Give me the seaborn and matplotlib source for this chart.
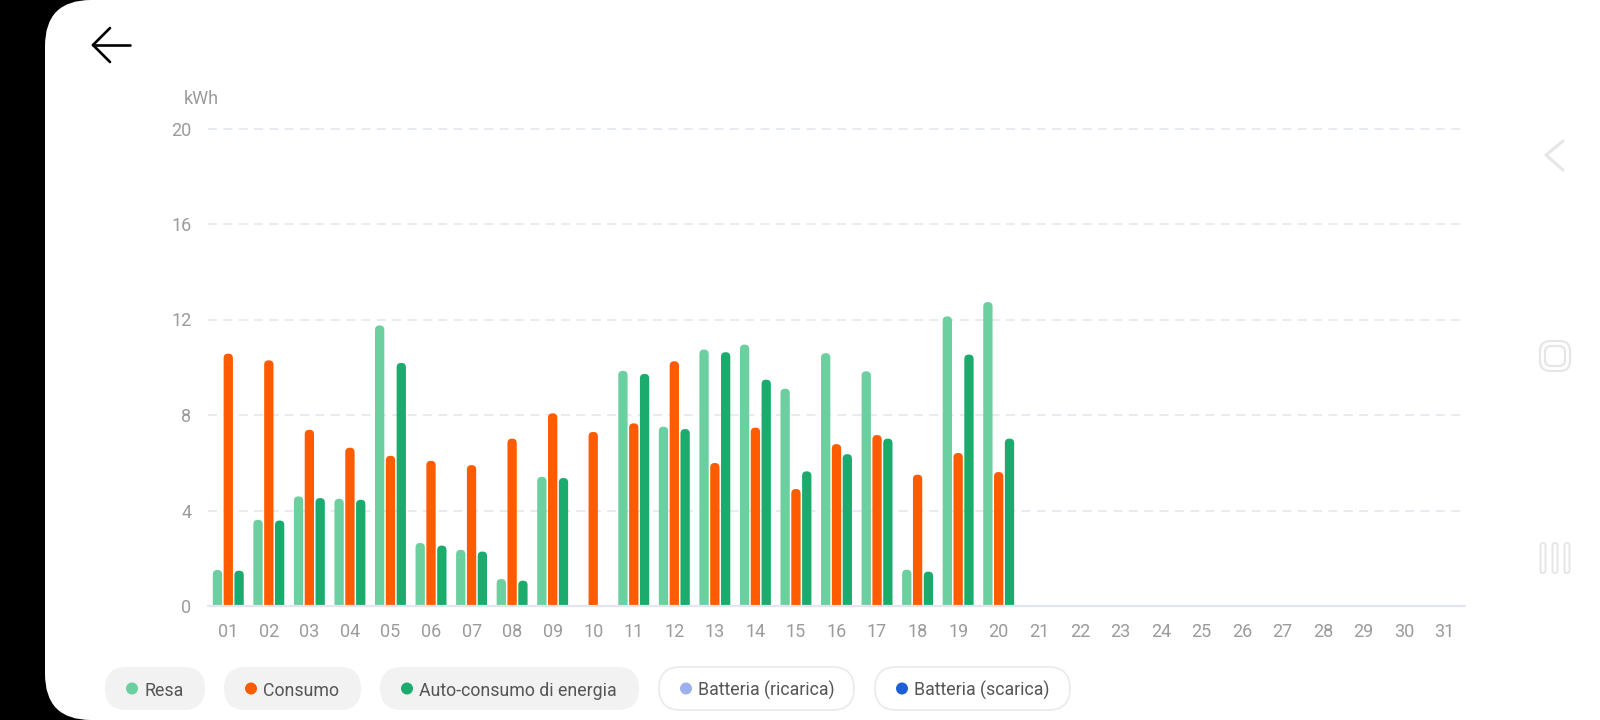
import numpy as np
import pandas as pd
import seaborn as sns
import matplotlib
matplotlib.use("Agg")
import matplotlib.pyplot as plt
from matplotlib.patches import FancyBboxPatch, Circle
from matplotlib.lines import Line2D
from matplotlib.transforms import IdentityTransform

# ---------------- data ----------------
days = [f"{d:02d}" for d in range(1, 32)]
resa = [1.51, 3.61, 4.59, 4.49, 11.75, 2.64, 2.35, 1.13, 5.41, 0.0,
        9.85, 7.51, 10.74, 10.95, 9.10, 10.59, 9.83, 1.52, 12.13, 12.73]
consumo = [10.57, 10.29, 7.38, 6.63, 6.29, 6.08, 5.90, 7.01, 8.07, 7.29,
           7.65, 10.25, 5.99, 7.47, 4.90, 6.78, 7.16, 5.50, 6.41, 5.61]
autoconsumo = [1.48, 3.58, 4.52, 4.45, 10.18, 2.53, 2.28, 1.06, 5.36, 0.0,
               9.72, 7.41, 10.63, 9.48, 5.64, 6.36, 7.01, 1.44, 10.53, 7.01]
series_names = ["Resa", "Consumo", "Auto-consumo di energia"]
series_colors = ["#6CCF9F", "#FF5B00", "#1BAB6D"]
legend_names = ["Resa", "Consumo", "Auto-consumo di energia",
                "Batteria (ricarica)", "Batteria (scarica)"]
legend_colors = ["#6CCF9F", "#FF5B00", "#1BAB6D", "#9DB0EB", "#1F5FD6"]
legend_active = [True, True, True, False, False]
y_ticks = [0, 4, 8, 12, 16, 20]
unit_label = "kWh"

# ---------------- frame ----------------
rows = []
for name, vals in zip(series_names, [resa, consumo, autoconsumo]):
    full = list(vals) + [np.nan] * (len(days) - len(vals))
    for d, v in zip(days, full):
        rows.append({"day": d, "serie": name, "value": v})
df = pd.DataFrame(rows)

sns.set_style("white")
plt.rcParams["font.family"] = ["Roboto", "DejaVu Sans"]

W, H = 1600, 720
fig = plt.figure(figsize=(W / 100, H / 100), dpi=100, facecolor="black")

# white rounded panel
panel = FancyBboxPatch((45, 0), 1800, H, boxstyle="round,pad=0,rounding_size=46",
                       transform=IdentityTransform(), facecolor="white",
                       edgecolor="none", zorder=-5)
fig.patches.append(panel)

ax_left, ax_right = 208, 1465
ax_bottom, ax_top = 606, 128.5
ax = fig.add_axes([ax_left / W, (H - ax_bottom) / H,
                   (ax_right - ax_left) / W, (ax_bottom - ax_top) / H])
ax.set_facecolor("none")

sns.barplot(data=df, x="day", y="value", hue="serie", order=days,
            hue_order=series_names, palette=series_colors, saturation=1,
            width=0.8, gap=0.14, errorbar=None, legend=False, ax=ax, zorder=3)

ax.set_xlim(-0.5, len(days) - 0.5)
ax.set_ylim(0, 20)

# replace bars by rounded-top bars
fig.canvas.draw()
p0 = ax.transData.transform((0, 0))
p1 = ax.transData.transform((1, 1))
aspect = (p1[0] - p0[0]) / (p1[1] - p0[1])
for p in list(ax.patches):
    x, w, h = p.get_x(), p.get_width(), p.get_height()
    fc = p.get_facecolor()
    p.remove()
    if not np.isfinite(h) or h <= 0:
        continue
    r = w / 2 * 0.95
    ry = r * aspect
    fb = FancyBboxPatch((x, -ry), w, h + ry,
                        boxstyle=f"round,pad=0,rounding_size={r}",
                        mutation_aspect=aspect, facecolor=fc, edgecolor="none",
                        zorder=3)
    ax.add_patch(fb)

for s in ax.spines.values():
    s.set_visible(False)
ax.set_yticks(y_ticks)
ax.set_yticklabels([str(t) for t in y_ticks])
ax.set_xlabel("")
ax.set_ylabel("")
ax.tick_params(axis="both", length=0, colors="#9B9B9B", labelsize=13)
ax.tick_params(axis="y", pad=12)
ax.tick_params(axis="x", pad=12.5)
for t in y_ticks[1:]:
    ax.axhline(t, color="#E6E9F0", lw=1.3, ls=(0, (5, 3.5)), zorder=1, clip_on=False)
ax.axhline(0, color="#E3E6F0", lw=1.6, zorder=4, clip_on=False)

fig.text(201 / W, (H - 99) / H, unit_label, ha="center", va="center",
         fontsize=13, color="#9B9B9B")

# back arrow
idt = IdentityTransform()
for (xa, ya), (xb, yb) in [((93, 45), (130, 45)), ((93, 45), (110, 28)), ((93, 45), (110, 62))]:
    fig.lines.append(Line2D([xa, xb], [H - ya, H - yb], transform=idt, color="black",
                            lw=1.9, solid_capstyle="round"))

# right nav icons
nav = "#E6E6E6"
fig.lines.append(Line2D([1563, 1546, 1563], [H - 141, H - 155, H - 170], transform=idt,
                        color=nav, lw=2.2, solid_capstyle="round", solid_joinstyle="round"))
fig.patches.append(FancyBboxPatch((1540, H - 371), 30, 30, boxstyle="round,pad=0,rounding_size=10",
                                  transform=idt, facecolor="none", edgecolor=nav, lw=1.6))
fig.patches.append(FancyBboxPatch((1545, H - 366), 20, 20, boxstyle="round,pad=0,rounding_size=6",
                                  transform=idt, facecolor="none", edgecolor=nav, lw=1.6))
for xc in [1543, 1555, 1567]:
    fig.patches.append(FancyBboxPatch((xc - 2.5, H - 573), 5, 30, boxstyle="round,pad=0,rounding_size=2.5",
                                      transform=idt, facecolor="none", edgecolor=nav, lw=1.4))

# legend pills
pill_lefts = [105, 224, 380, 659, 875]
pill_rights = [205, 361, 639, 854, 1070]
pill_top, pill_bot = 667, 710
for name, col, act, l, rgt in zip(legend_names, legend_colors, legend_active, pill_lefts, pill_rights):
    fig.patches.append(FancyBboxPatch((l, H - pill_bot), rgt - l, pill_bot - pill_top,
                                      boxstyle="round,pad=0,rounding_size=21.5", transform=idt,
                                      facecolor="#F2F2F2" if act else "white",
                                      edgecolor="none" if act else "#EAEAEA", lw=1.2))
    cy = H - (pill_top + pill_bot) / 2
    fig.patches.append(Circle((l + 27, cy), 6, transform=idt, facecolor=col, edgecolor="none"))
    fig.text((l + 39) / W, cy / H, name, ha="left", va="center_baseline", fontsize=12.8,
             color="#555555")

fig.savefig("out.png", dpi=100, facecolor=fig.get_facecolor())
